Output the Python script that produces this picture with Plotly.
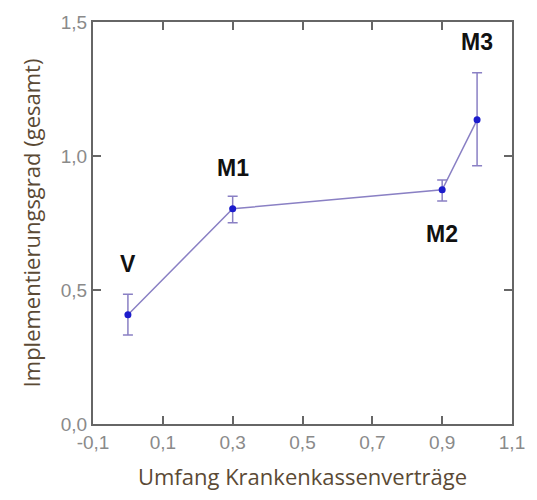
import plotly.graph_objects as go

# Data
labels = ["V", "M1", "M2", "M3"]
x_vals = [0.0, 0.3, 0.9, 1.0]
y_vals = [0.408, 0.803, 0.874, 1.135]
err_plus = [0.076, 0.047, 0.036, 0.176]
err_minus = [0.076, 0.052, 0.042, 0.171]
label_shift = [51, 41, -44, 78]

x_ticks = [-0.1, 0.1, 0.3, 0.5, 0.7, 0.9, 1.1]
x_tick_text = ["-0,1", "0,1", "0,3", "0,5", "0,7", "0,9", "1,1"]
y_ticks = [0.0, 0.5, 1.0, 1.5]
y_tick_text = ["0,0", "0,5", "1,0", "1,5"]

line_col = "#8a80c4"
marker_col = "#1c1ccc"
axis_col = "#666666"
tick_font_col = "#8a8a8a"
title_col = "#5b4a35"

fig = go.Figure()
fig.add_trace(go.Scatter(
    x=x_vals, y=y_vals, mode="lines+markers",
    line=dict(color=line_col, width=1.5),
    marker=dict(color=marker_col, size=7),
    error_y=dict(type="data", symmetric=False, array=err_plus, arrayminus=err_minus,
                 color=line_col, thickness=1.5, width=5),
    showlegend=False,
))

for lab, xv, yv, sh in zip(labels, x_vals, y_vals, label_shift):
    fig.add_annotation(x=xv, y=yv, text="<b>" + lab + "</b>", showarrow=False,
                       yshift=sh, font=dict(family="Liberation Sans, Arial", size=23, color="#111111"))

fig.update_layout(
    width=537, height=500,
    margin=dict(l=93, r=15, t=20, b=76),
    paper_bgcolor="white", plot_bgcolor="white",
    xaxis=dict(range=[-0.1, 1.1], tickvals=x_ticks, ticktext=x_tick_text,
               showline=True, mirror="ticks", linecolor=axis_col, linewidth=2,
               ticks="inside", ticklen=8, tickwidth=1.5, tickcolor=axis_col,
               showgrid=False, zeroline=False,
               tickfont=dict(family="Liberation Sans, Arial", size=19, color=tick_font_col),
               title=dict(text="Umfang Krankenkassenverträge", standoff=18,
                          font=dict(family="Open Sans", size=22, color=title_col))),
    yaxis=dict(range=[0, 1.5], tickvals=y_ticks, ticktext=y_tick_text,
               showline=True, mirror="ticks", linecolor=axis_col, linewidth=2,
               ticks="inside", ticklen=8, tickwidth=1.5, tickcolor=axis_col,
               showgrid=False, zeroline=False,
               tickfont=dict(family="Liberation Sans, Arial", size=19, color=tick_font_col),
               title=dict(text="Implementierungsgrad (gesamt)", standoff=14,
                          font=dict(family="Open Sans", size=22, color=title_col))),
)

fig.write_html("out.html")
